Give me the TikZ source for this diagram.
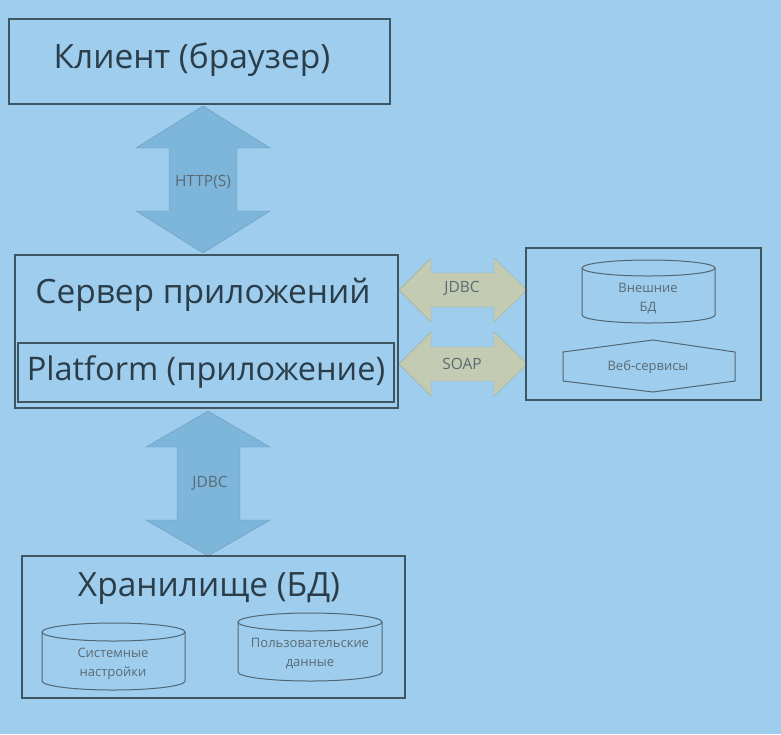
\documentclass[tikz,border=0pt]{standalone}
\usepackage{fontspec}
\setmainfont{Open Sans}
\begin{document}
\begin{tikzpicture}[x=1pt,y=-1pt,
  box/.style={draw=boxline,line width=1.3pt},
  big/.style={font=\fontsize{33.5}{36}\selectfont,text=textdark},
  small/.style={font=\fontsize{13}{19}\selectfont,text=smalltext,align=center},
  arrlabel/.style={font=\fontsize{15.5}{18}\selectfont,text=smalltext},
  blueArrow/.style={fill=arrowblue,draw=arrowblue!85!black,line width=0.4pt},
  greenArrow/.style={fill=arrowgreen,draw=arrowgreen!85!black,line width=0.4pt},
  cylline/.style={draw=boxline!90,line width=1pt}]
\definecolor{bg}{HTML}{9FCDEE}
\definecolor{boxline}{HTML}{3E5562}
\definecolor{textdark}{HTML}{2A3D48}
\definecolor{smalltext}{HTML}{5A6A72}
\definecolor{arrowblue}{HTML}{7DB6DA}
\definecolor{arrowgreen}{HTML}{C3CCB2}
\useasboundingbox (0,0) rectangle (781,734);
\fill[bg] (0,0) rectangle (781,734);
% ---- Client box
\draw[box] (9,19) rectangle (390,104);
\node[big] (client) at (192,60) {Клиент (браузер)};
% ---- HTTP(S) arrow (vertical)
\draw[blueArrow] (203,106) -- (270,148) -- (237,148) -- (237,211) -- (270,211) -- (203,253)
   -- (136,211) -- (169,211) -- (169,148) -- (136,148) -- cycle;
\node[arrlabel] (http) at (203,182) {HTTP(S)};
% ---- Server box
\draw[box] (15,255) rectangle (398,408);
\node[big] (server) at (203,295) {Сервер приложений};
\draw[box] (18,343) rectangle (394,402);
\node[big,font=\fontsize{32.5}{35}\selectfont] (platform) at (206,372) {Platform (приложение)};
% ---- JDBC horizontal
\draw[greenArrow] (399,290) -- (431,258) -- (431,273) -- (494,273) -- (494,258) -- (527,290)
   -- (494,322) -- (494,307) -- (431,307) -- (431,322) -- cycle;
\node[arrlabel] (jdbc1) at (462,288) {JDBC};
% ---- SOAP horizontal
\draw[greenArrow] (399,364) -- (431,332) -- (431,347) -- (494,347) -- (494,332) -- (527,364)
   -- (494,396) -- (494,381) -- (431,381) -- (431,396) -- cycle;
\node[arrlabel] (soap) at (462,364) {SOAP};
% ---- External box
\draw[box,line width=1.1pt] (526,248) rectangle (761,400);
% cylinder Внешние БД
\draw[cylline] (582,268) -- (582,315) arc[start angle=180,end angle=0,x radius=66.5,y radius=8] -- (715,268);
\draw[cylline] (648.5,268) ellipse[x radius=66.5,y radius=8];
\node[small] (extdb) at (648,299) {Внешние\\БД};
% hexagon Веб-сервисы
\draw[cylline] (563,352) -- (653,340) -- (735,352) -- (735,381) -- (653,392) -- (563,381) -- cycle;
\node[small] (web) at (648,367) {Веб-сервисы};
% ---- JDBC lower vertical
\draw[blueArrow] (208,411) -- (270,447) -- (240,447) -- (240,520) -- (270,520) -- (208,556)
   -- (146,520) -- (177,520) -- (177,447) -- (146,447) -- cycle;
\node[arrlabel] (jdbc2) at (210,483) {JDBC};
% ---- Storage box
\draw[box] (22,556) rectangle (405,698);
\node[big] (storage) at (209,589) {Хранилище (БД)};
% cylinder 1
\draw[cylline] (42,632) -- (42,681) arc[start angle=180,end angle=0,x radius=71.5,y radius=9] -- (185,632);
\draw[cylline] (113.5,632) ellipse[x radius=71.5,y radius=9];
\node[small] (sys) at (113,664) {Системные\\настройки};
% cylinder 2
\draw[cylline] (238,622) -- (238,672) arc[start angle=180,end angle=0,x radius=72,y radius=9] -- (382,622);
\draw[cylline] (310,622) ellipse[x radius=72,y radius=9];
\node[small] (user) at (310,654) {Пользовательские\\данные};
\end{tikzpicture}
\end{document}
